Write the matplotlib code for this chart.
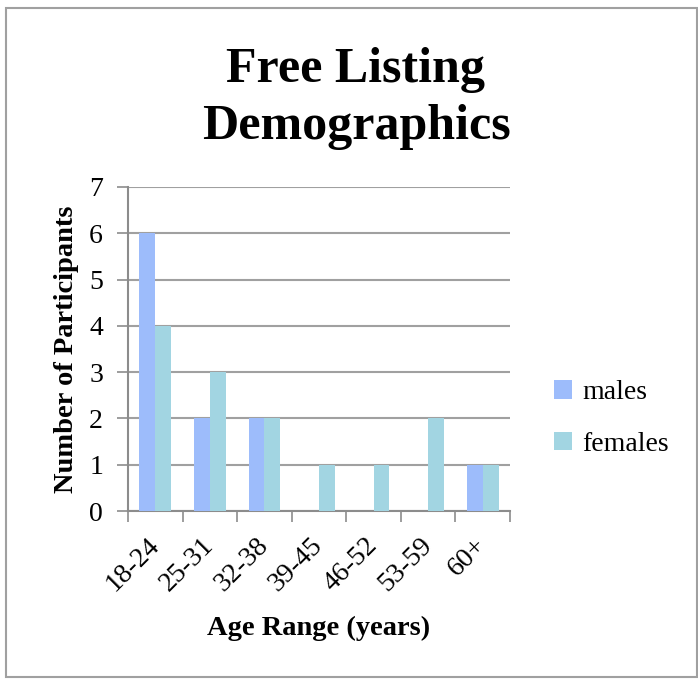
import numpy as np
import matplotlib.pyplot as plt
from matplotlib.patches import Rectangle

age_ranges = ["18-24", "25-31", "32-38", "39-45", "46-52", "53-59", "60+"]
males = [6, 2, 2, 0, 0, 0, 1]
females = [4, 3, 2, 1, 1, 2, 1]

male_color = "#9dbcfb"
female_color = "#a2d5e2"
axis_gray = "#8c8c8c"

plt.rcParams["font.family"] = ["Liberation Serif", "DejaVu Serif"]

fig = plt.figure(figsize=(6.98, 6.79), dpi=100)
ax = fig.add_axes([0.1834, 0.2474, 0.5473, 0.4772])

x = np.arange(len(age_ranges))
w = 0.29
ax.bar(x - w / 2, males, w, color=male_color, label="males", zorder=3)
ax.bar(x + w / 2, females, w, color=female_color, label="females", zorder=3)

ax.set_xlim(-0.5, len(age_ranges) - 0.5)
ax.set_ylim(0, 7)
ax.set_yticks(range(8))
ax.tick_params(axis="y", labelsize=20, length=8, width=1.2, color=axis_gray, pad=10)
ax.yaxis.grid(True, color="#a0a0a0", linewidth=1.5, zorder=0)

# tick marks between categories, labels at the centres
ax.set_xticks(np.arange(len(age_ranges) + 1) - 0.5)
ax.set_xticklabels([])
ax.tick_params(axis="x", which="major", length=8, width=1.2, color=axis_gray)
ax.set_xticks(x, minor=True)
ax.set_xticklabels(age_ranges, minor=True, rotation=45, ha="right", va="center",
                   rotation_mode="anchor", fontsize=20)
ax.tick_params(axis="x", which="minor", length=0, pad=22)

for side in ["top", "right"]:
    ax.spines[side].set_visible(False)
for side in ["left", "bottom"]:
    ax.spines[side].set_color(axis_gray)
    ax.spines[side].set_linewidth(1.5)

ax.set_ylabel("Number of Participants", fontsize=20.5, fontweight="bold", labelpad=7)
ax.set_xlabel("Age Range (years)", fontsize=20.5, fontweight="bold", labelpad=14)

fig.text(0.51, 0.855, "Free Listing\nDemographics", ha="center", va="center",
         fontsize=36, fontweight="bold", linespacing=1.3)

ax.legend(loc="center left", bbox_to_anchor=(1.05, 0.285), frameon=False,
          fontsize=20, handlelength=0.65, handleheight=0.65, labelspacing=0.95,
          handletextpad=0.35)

# outer frame of the chart
fig.patches.append(Rectangle((0.009, 0.003), 0.99, 0.985, transform=fig.transFigure,
                             fill=False, edgecolor="#a0a0a0", linewidth=1.5))

fig.savefig("out.png", dpi=100)
